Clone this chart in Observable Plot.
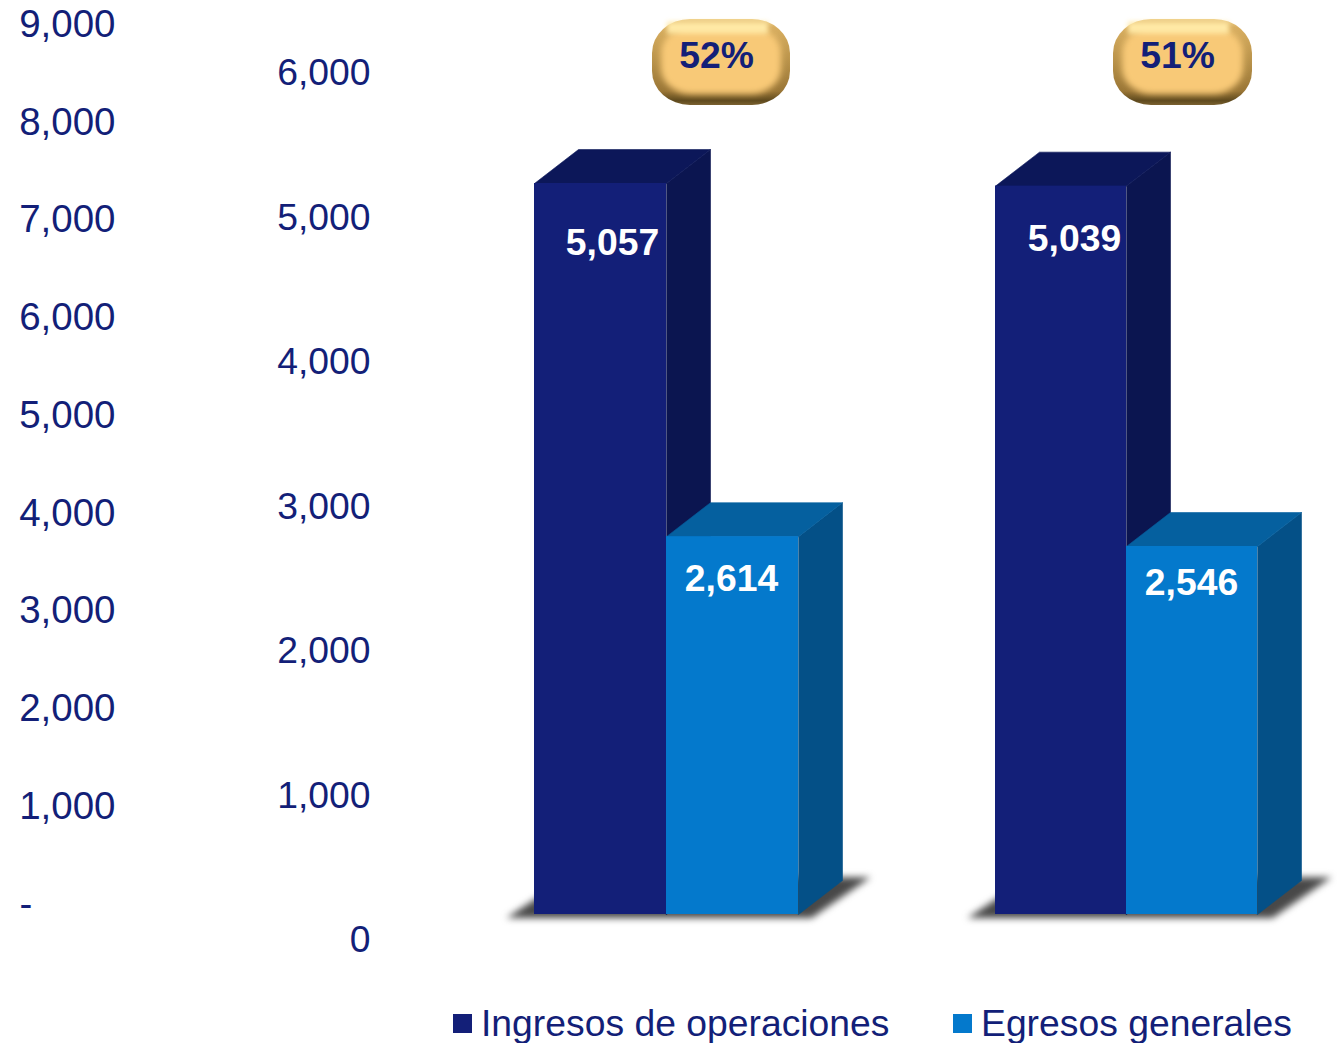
<!DOCTYPE html>
<html><head><meta charset="utf-8">
<script src="https://cdn.jsdelivr.net/npm/d3@7"></script>
<script src="https://cdn.jsdelivr.net/npm/@observablehq/plot@0.6"></script>
<style>
html,body{margin:0;padding:0;background:#fff;overflow:hidden;width:1337px;height:1043px;font-family:"Liberation Sans",Arial,sans-serif}
#wrap{position:relative;width:1337px;height:990px}
#wrap svg{position:absolute;left:0;top:0}
#legend{position:absolute;left:0;top:990px;width:1337px;height:53px;overflow:hidden;color:#131F78;font-size:37.3px;line-height:1}
#legend span{position:absolute;white-space:nowrap}
</style></head>
<body>
<div id="wrap"></div>
<div id="legend"></div>
<script>
// Data
const ingresos = [5057, 5039];
const egresos = [2614, 2546];
const shares = ["52%", "51%"];
const seriesNames = ["Ingresos de operaciones", "Egresos generales"];
const leftTicks = [1000, 2000, 3000, 4000, 5000, 6000, 7000, 8000, 9000];
const rightTicks = [0, 1000, 2000, 3000, 4000, 5000, 6000];

const INK = "#131F78";
const FONT = "Liberation Sans";
const PAL = [
  {front: "#131F78", side: "#0B1550", top: "#0C1759"},
  {front: "#0479CC", side: "#045087", top: "#05609F"}
];
// x unit = about one bar width; y unit = axis value
const PITCH = 3.498, DX = 0.335, DY = 235, WIDTHS = [1, 0.993];

const poly = (pts, options) => Plot.line(pts, {x: "0", y: "1", curve: "linear-closed", strokeWidth: 0.6, ...options});

const marks = [];
marks.push(() => {
  const defs = d3.create("svg:defs");
  const g = defs.append("linearGradient").attr("id", "pillEdge").attr("x1", 0).attr("x2", 0).attr("y1", 0).attr("y2", 1);
  [[0, "#EFD08C"], [0.1, "#D8AE60"], [0.5, "#B8924A"], [0.84, "#9A7636"], [0.95, "#5F4A1E"], [1, "#7A6130"]].forEach(([o, c]) =>
    g.append("stop").attr("offset", o).attr("stop-color", c));
  return defs.node();
});

ingresos.forEach((_, g) => {
  const x0 = g * PITCH, w = WIDTHS[g];
  // floor shadow
  marks.push(poly([[x0 - 0.21, -25], [x0 + 2.1, -25], [x0 + 2.55, 258], [x0 + 0.26, 258]],
    {fill: "#484848", stroke: "none", imageFilter: "blur(3.5px)"}));
  [ingresos[g], egresos[g]].forEach((v, s) => {
    const a = x0 + s * w, b = a + w, p = PAL[s];
    marks.push(poly([[b, 0], [b + DX, DY], [b + DX, v + DY], [b, v]], {fill: p.side, stroke: p.side}));
    marks.push(poly([[a, v], [a + DX, v + DY], [b + DX, v + DY], [b, v]], {fill: p.top, stroke: p.top}));
    marks.push(Plot.rect([v], {x1: a, x2: b, y1: 0, y2: d => d, fill: p.front}));
  });
  // percentage pill
  const pill = {x1: x0 + 0.892, x2: x0 + 1.946, y1: 5597, y2: 6192};
  marks.push(Plot.rect([0], {...pill, fill: "url(#pillEdge)", rx: 38, ry: 34}));
  marks.push(Plot.rect([0], {...pill, fill: "#F8C977", insetLeft: 9, insetRight: 9, insetTop: 8, insetBottom: 11, rx: 30, ry: 26, imageFilter: "blur(3px)"}));
  marks.push(Plot.rect([0], {x1: x0 + 1.01, x2: x0 + 1.775, y1: 6090, y2: 6171, fill: "#FFE9A6", imageFilter: "blur(2.5px)"}));
  marks.push(Plot.text([shares[g]], {x: x0 + 1.415, y: 5895, text: d => d, dx: g ? -5 : -4, dy: -6, fill: INK, fontSize: 37.3, fontWeight: "bold"}));
});

// value labels
const label = (v, x, dx, dy) => Plot.text([v], {x, y: d => d, text: d => d3.format(",")(d), dx, dy, fill: "#fff", fontSize: 37.3, fontWeight: "bold"});
marks.push(label(ingresos[0], 0.5, 12, 60));
marks.push(label(egresos[0], 1.5, -1, 42));
marks.push(label(ingresos[1], PITCH + 0.5, 13, 53));
marks.push(label(egresos[1], PITCH + 1.5, -2, 37));

marks.push(Plot.axisY({anchor: "left", ticks: rightTicks, tickSize: 0, tickPadding: 0, dy: 26, label: null,
  tickFormat: d3.format(","), fill: INK, color: INK, fontSize: 37.3}));

const main = Plot.plot({
  width: 1337, height: 990,
  marginLeft: 370, marginRight: 0, marginTop: 0, marginBottom: 76,
  x: {axis: null, domain: [-1.2443, 6.0927], round: true},
  y: {axis: null, domain: [0, 6323]},
  style: {fontFamily: FONT, background: "transparent", overflow: "visible"},
  marks
});

const left = Plot.plot({
  width: 1337, height: 990,
  marginLeft: 115, marginRight: 0, marginTop: 24, marginBottom: 86,
  x: {axis: null},
  y: {axis: null, domain: [0, 9000]},
  style: {fontFamily: FONT, background: "transparent", overflow: "visible"},
  marks: [
    Plot.axisY({anchor: "left", ticks: leftTicks, tickSize: 0, tickPadding: 0, label: null,
      tickFormat: d3.format(","), fill: INK, color: INK, fontSize: 38.5}),
    Plot.text(["-"], {y: () => 0, text: d => d, frameAnchor: "left", textAnchor: "start", dx: -96, fill: INK, fontSize: 38.5})
  ]
});

const wrap = document.getElementById("wrap");
wrap.append(main, left);

const legend = document.getElementById("legend");
const lx = [453, 953];
seriesNames.forEach((name, i) => {
  const sw = document.createElement("span");
  sw.style.cssText = `left:${lx[i]}px;top:24px;width:19px;height:19px;background:${PAL[i].front}`;
  const t = document.createElement("span");
  t.style.cssText = `left:${lx[i] + 28}px;top:15px`;
  t.textContent = name;
  legend.append(sw, t);
});
</script>
</body></html>
